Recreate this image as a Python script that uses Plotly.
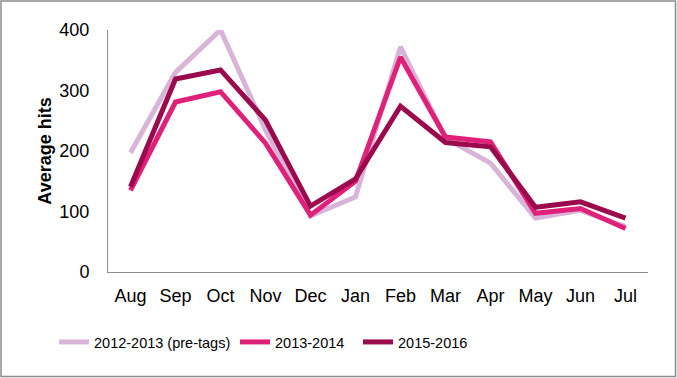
import plotly.graph_objects as go

months = ["Aug", "Sep", "Oct", "Nov", "Dec", "Jan", "Feb", "Mar", "Apr", "May", "Jun", "Jul"]
s2012 = [197, 330, 400, 235, 93, 124, 372, 221, 180, 89, 102, 75]
s2013 = [135, 281, 298, 213, 94, 150, 355, 223, 215, 97, 105, 72]
s2015 = [141, 319, 334, 251, 109, 154, 274, 214, 207, 107, 116, 89]

names = ["2012-2013 (pre-tags)", "2013-2014", "2015-2016"]
colors = ["#D9B4D9", "#E0217A", "#9A0A4C"]

W, H = 677, 378
ml, mr, mt, mb = 108, 29, 30, 106
pw, ph = W - ml - mr, H - mt - mb

legend_ids = ["legend", "legend2", "legend3"]
legend_px = [54, 235, 358]

fig = go.Figure()
for name, vals, col, lid in zip(names, [s2012, s2013, s2015], colors, legend_ids):
    fig.add_trace(go.Scatter(x=months, y=vals, name=name, mode="lines", legend=lid,
                             line=dict(color=col, width=5), hoverinfo="skip"))

legend_font = dict(family="Liberation Sans, Arial, sans-serif", size=14.5, color="#000")
layout_legends = {}
for lid, px in zip(legend_ids, legend_px):
    layout_legends[lid] = dict(orientation="h", x=(px - ml) / pw, xanchor="left",
                               y=-70 / ph, yanchor="middle", font=legend_font,
                               itemwidth=30, bgcolor="rgba(0,0,0,0)")

fig.update_layout(
    width=W, height=H,
    margin=dict(l=ml, r=mr, t=mt, b=mb, pad=0),
    paper_bgcolor="white", plot_bgcolor="white",
    showlegend=True,
    font=dict(family="Liberation Sans, Arial, sans-serif", color="#000"),
    **layout_legends,
)
fig.update_xaxes(range=[-0.5, 11.5], showline=True, linecolor="#8C8C8C", linewidth=1, showgrid=False,
                 zeroline=False, ticks="", tickfont=dict(size=18), ticklabelstandoff=7)
fig.update_yaxes(range=[0, 400], dtick=100, showline=True, linecolor="#8C8C8C", linewidth=1,
                 showgrid=False, zeroline=False, ticks="", tickfont=dict(size=18),
                 ticklabelstandoff=14,
                 title=dict(text="<b>Average hits</b>", font=dict(size=18), standoff=3))
fig.add_shape(type="rect", xref="paper", yref="paper",
              x0=(1 - ml) / pw, x1=(W - 1.5 - ml) / pw,
              y0=-(mb - 1.5) / ph, y1=1 + (mt - 1) / ph,
              line=dict(color="#8C8C8C", width=1.5), fillcolor="rgba(0,0,0,0)", layer="below")
fig.write_html("out.html", config={"displayModeBar": False},
               post_script="document.body.style.margin='0';")
